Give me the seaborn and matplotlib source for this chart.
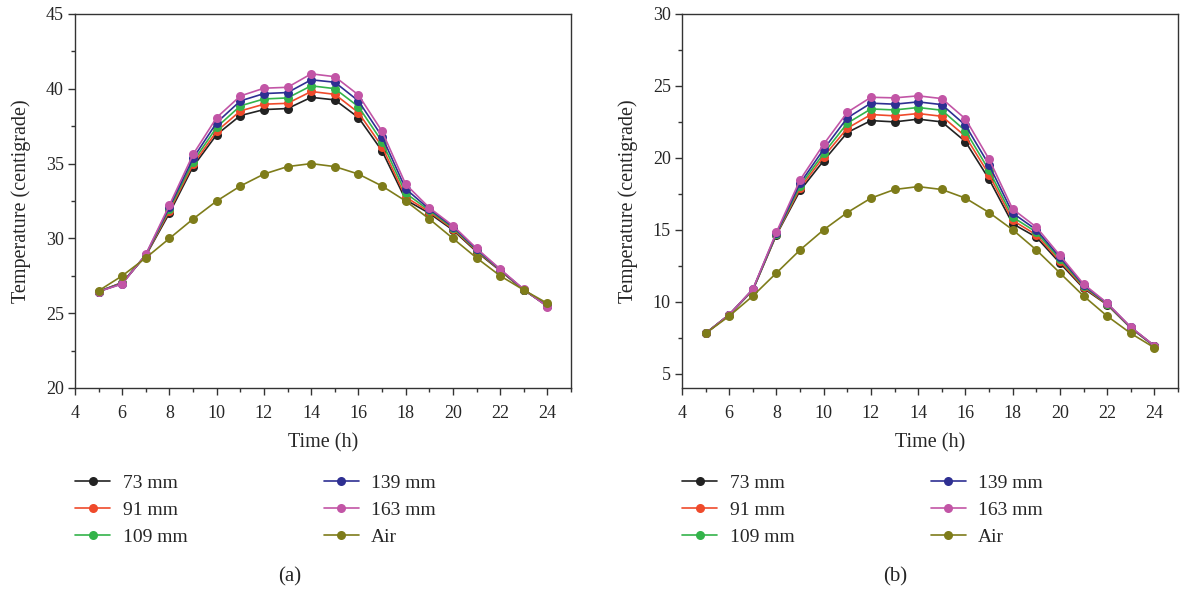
import pandas as pd
import numpy as np
import seaborn as sns
import matplotlib
matplotlib.use('Agg')
import matplotlib.pylab as plt
from matplotlib.ticker import MultipleLocator

hours = list(range(5, 25))
series = ['73 mm', '91 mm', '109 mm', '139 mm', '163 mm', 'Air']
colors = ['#222222', '#ef4a2b', '#33b34a', '#2e2f92', '#c255a6', '#7e7c1a']

# panel (a)
a_73 = [26.45, 27.05, 28.85, 31.7, 34.8, 36.94, 38.21, 38.61, 38.68, 39.43, 39.26, 38.08, 35.85, 32.58, 31.68, 30.56, 29.11, 27.84, 26.55, 25.5]
a_91 = [26.45, 27.03, 28.87, 31.85, 34.96, 37.16, 38.52, 38.97, 39.03, 39.82, 39.63, 38.41, 36.14, 32.76, 31.78, 30.63, 29.17, 27.87, 26.56, 25.48]
a_109 = [26.45, 27.0, 28.9, 31.98, 35.14, 37.43, 38.86, 39.32, 39.39, 40.2, 40.01, 38.81, 36.47, 33.02, 31.87, 30.71, 29.22, 27.9, 26.57, 25.47]
a_139 = [26.45, 26.98, 28.92, 32.1, 35.36, 37.74, 39.19, 39.68, 39.75, 40.6, 40.44, 39.19, 36.81, 33.31, 31.96, 30.78, 29.28, 27.92, 26.58, 25.46]
a_163 = [26.45, 26.95, 28.94, 32.23, 35.62, 38.08, 39.52, 40.04, 40.1, 41.0, 40.81, 39.59, 37.16, 33.62, 32.05, 30.85, 29.34, 27.95, 26.6, 25.43]
a_air = [26.5, 27.5, 28.7, 30.0, 31.3, 32.5, 33.5, 34.3, 34.8, 35.0, 34.8, 34.3, 33.5, 32.5, 31.3, 30.0, 28.7, 27.5, 26.55, 25.66]

# panel (b)
b_73 = [7.8, 9.1, 10.8, 14.65, 17.73, 19.81, 21.76, 22.59, 22.5, 22.69, 22.5, 21.13, 18.52, 15.42, 14.49, 12.69, 10.93, 9.79, 8.17, 6.9]
b_91 = [7.8, 9.1, 10.82, 14.68, 17.89, 20.09, 22.06, 23.01, 22.92, 23.08, 22.89, 21.5, 18.84, 15.65, 14.65, 12.82, 11.0, 9.82, 8.19, 6.91]
b_109 = [7.8, 9.1, 10.84, 14.72, 18.06, 20.32, 22.41, 23.4, 23.33, 23.5, 23.31, 21.88, 19.14, 15.88, 14.84, 12.95, 11.08, 9.85, 8.2, 6.92]
b_139 = [7.8, 9.1, 10.86, 14.77, 18.24, 20.6, 22.78, 23.8, 23.73, 23.89, 23.7, 22.27, 19.51, 16.16, 15.0, 13.09, 11.15, 9.88, 8.22, 6.93]
b_163 = [7.8, 9.1, 10.88, 14.84, 18.47, 20.95, 23.17, 24.21, 24.17, 24.31, 24.12, 22.71, 19.91, 16.44, 15.19, 13.22, 11.23, 9.91, 8.24, 6.94]
b_air = [7.8, 9.0, 10.4, 12.0, 13.6, 15.0, 16.2, 17.2, 17.8, 18.0, 17.8, 17.2, 16.2, 15.0, 13.6, 12.0, 10.4, 9.0, 7.8, 6.8]


def to_long(vals):
	frames = []
	for name, v in zip(series, vals):
		frames.append(pd.DataFrame({'time': hours, 'temp': v, 'series': name}))
	return pd.concat(frames, ignore_index=True)


df_a = to_long([a_73, a_91, a_109, a_139, a_163, a_air])
df_b = to_long([b_73, b_91, b_109, b_139, b_163, b_air])

sns.set_style('white')
plt.rcParams['font.family'] = ['Liberation Serif', 'DejaVu Serif']
plt.rcParams['axes.edgecolor'] = '#333333'
plt.rcParams['axes.linewidth'] = 1.0

fig = plt.figure(figsize=(11.81, 5.91), dpi=100)
ax1 = fig.add_axes([75/1181, 203/591, 496/1181, 374/591])
ax2 = fig.add_axes([682/1181, 203/591, 496/1181, 374/591])

pal = dict(zip(series, colors))


def draw(ax, df, ylim, ymaj, legx, tag, tagx):
	sns.lineplot(data=df, x='time', y='temp', hue='series', hue_order=series, palette=pal,
		marker='o', markersize=6.5, markeredgewidth=0, linewidth=1.2, ax=ax, legend=True)
	ax.set_xlim(4, 25)
	ax.set_ylim(*ylim)
	ax.xaxis.set_major_locator(MultipleLocator(2))
	ax.xaxis.set_minor_locator(MultipleLocator(1))
	ax.yaxis.set_major_locator(MultipleLocator(ymaj))
	ax.yaxis.set_minor_locator(MultipleLocator(ymaj/2))
	ax.tick_params(which='major', direction='out', length=5, width=1, labelsize=13, color='#333333',
		bottom=True, left=True, top=False, right=False)
	ax.tick_params(axis='x', which='major', pad=7)
	ax.tick_params(axis='y', which='major', pad=3)
	ax.tick_params(which='minor', direction='out', length=3, width=1, color='#333333',
		bottom=True, left=True, top=False, right=False)
	ax.set_xlabel('Time (h)', fontsize=14.5, labelpad=8)
	ax.set_ylabel('Temperature (centigrade)', fontsize=14.5, labelpad=10.5)
	h, l = ax.get_legend_handles_labels()
	ax.get_legend().remove()
	fig.legend(h, l, ncol=2, loc='upper left', bbox_to_anchor=(legx, 1-474/591),
		frameon=False, fontsize=14, handlelength=1.8, handletextpad=0.65,
		columnspacing=7.0, labelspacing=0.48, borderpad=0, borderaxespad=0)
	fig.text(tagx, 1-577/591, tag, fontsize=15, ha='center', va='center')


draw(ax1, df_a, (20, 45), 5, 75/1181, '(a)', 290/1181)
draw(ax2, df_b, (4, 30), 5, 682/1181, '(b)', 895/1181)

fig.savefig('out.png', dpi=100)
plt.close()
